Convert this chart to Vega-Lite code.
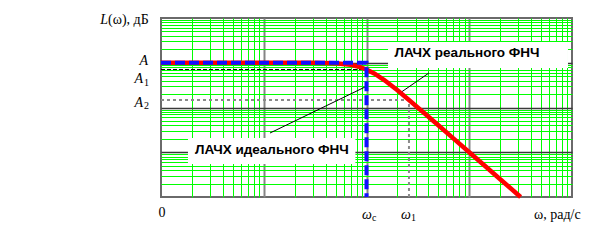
{
  "$schema": "https://vega.github.io/schema/vega-lite/v6.json",
  "width": 411,
  "height": 179,
  "autosize": "none",
  "padding": {"left": 161, "top": 18, "right": 32, "bottom": 48},
  "background": "white",
  "config": {"view": {"stroke": "#6a6a6a", "strokeWidth": 2}},
  "datasets": {
    "red": [
      {"w": 1, "L": 1000}, {"w": 10, "L": 1000}, {"w": 30, "L": 996}, {"w": 50, "L": 970},
      {"w": 70, "L": 898}, {"w": 85, "L": 811}, {"w": 100, "L": 707}, {"w": 120, "L": 570},
      {"w": 150, "L": 406}, {"w": 200, "L": 242}, {"w": 259, "L": 147}, {"w": 350, "L": 81.4},
      {"w": 500, "L": 40}, {"w": 700, "L": 20.4}, {"w": 1000, "L": 10}, {"w": 1500, "L": 4.44},
      {"w": 2000, "L": 2.5}, {"w": 3000, "L": 1.11}, {"w": 3162, "L": 1}
    ],
    "blue": [
      {"w": 1, "L": 1000, "o": 1}, {"w": 100, "L": 1000, "o": 2}, {"w": 100, "L": 1, "o": 3}
    ],
    "a1": [{"w": 1, "L": 707}, {"w": 100, "L": 707}],
    "a2": [{"w": 1, "L": 147, "o": 1}, {"w": 259, "L": 147, "o": 2}, {"w": 259, "L": 1, "o": 3}],
    "boxes": [
      {"w": 162, "w2": 9140, "L": 2910, "L2": 763},
      {"w": 1.83, "w2": 78, "L": 20.8, "L2": 5.46}
    ],
    "leaders": [
      {"w": 11.5, "L": 26.9, "w2": 96.7, "L2": 287},
      {"w": 405, "L": 590, "w2": 212, "L2": 211}
    ],
    "bold": [
      {"t": "ЛАЧХ реального ФНЧ", "w": 951, "L": 1652},
      {"t": "ЛАЧХ идеального ФНЧ", "w": 12.0, "L": 11.2}
    ],
    "serifRight": [
      {"t": "A", "w": 0.747, "L": 1094},
      {"t": "A", "w": 0.668, "L": 433},
      {"t": "A", "w": 0.668, "L": 126},
      {"t": "ω", "w": 113, "L": 0.396},
      {"t": "ω", "w": 271, "L": 0.396}
    ],
    "subs": [
      {"t": "1", "w": 0.683, "L": 360},
      {"t": "2", "w": 0.683, "L": 108},
      {"t": "c", "w": 113, "L": 0.34},
      {"t": "1", "w": 271, "L": 0.34}
    ],
    "serifLeft": [
      {"t": "(ω), дБ", "w": 0.305, "L": 9020},
      {"t": "ω, рад/с", "w": 4266, "L": 0.396}
    ],
    "serifCenter": [
      {"t": "0", "w": 1.02, "L": 0.439}
    ],
    "italicL": [
      {"t": "L", "w": 0.305, "L": 9020}
    ]
  },
  "encoding": {
    "x": {"field": "w", "type": "quantitative"},
    "y": {"field": "L", "type": "quantitative"}
  },
  "layer": [
    {
      "data": {"name": "a1"},
      "mark": {"type": "line", "color": "#000000", "strokeWidth": 1, "strokeDash": [4, 2]},
      "encoding": {
        "x": {"field": "w", "type": "quantitative",
          "scale": {"type": "log", "domain": [1, 10000], "nice": false},
          "axis": {"labels": false, "ticks": false, "domain": false, "title": null, "grid": true,
            "values": [2,3,4,5,6,7,8,9,10,20,30,40,50,60,70,80,90,100,200,300,400,500,600,700,800,900,1000,2000,3000,4000,5000,6000,7000,8000,9000],
            "gridColor": {"condition": {"test": "indexof([10,100,1000], datum.value) >= 0", "value": "#858585"}, "value": "#00ff00"},
            "gridWidth": {"condition": {"test": "indexof([10,100,1000], datum.value) >= 0", "value": 2}, "value": 1},
            "gridOpacity": 1}},
        "y": {"field": "L", "type": "quantitative",
          "scale": {"type": "log", "domain": [1, 10000], "nice": false},
          "axis": {"labels": false, "ticks": false, "domain": false, "title": null, "grid": true,
            "values": [2,3,4,5,6,7,8,9,10,20,30,40,50,60,70,80,90,100,200,300,400,500,600,700,800,900,1000,2000,3000,4000,5000,6000,7000,8000,9000],
            "gridColor": {"condition": {"test": "indexof([10,100,1000], datum.value) >= 0", "value": "#3a3a3a"}, "value": "#00ff00"},
            "gridWidth": {"condition": {"test": "indexof([10,100,1000], datum.value) >= 0", "value": 1.5}, "value": 1},
            "gridOpacity": 1}}
      }
    },
    {
      "data": {"name": "a2"},
      "mark": {"type": "line", "color": "#8a8a8a", "strokeWidth": 2, "strokeDash": [3, 3]},
      "encoding": {"order": {"field": "o"}}
    },
    {
      "data": {"name": "boxes"},
      "mark": {"type": "rect", "color": "white"},
      "encoding": {
        "x2": {"field": "w2"},
        "y2": {"field": "L2"}
      }
    },
    {
      "data": {"name": "leaders"},
      "mark": {"type": "rule", "color": "#000000", "strokeWidth": 1},
      "encoding": {
        "x2": {"field": "w2"},
        "y2": {"field": "L2"}
      }
    },
    {
      "data": {"name": "red"},
      "mark": {"type": "line", "color": "#ff0000", "strokeWidth": 4.5}
    },
    {
      "data": {"name": "blue"},
      "mark": {"type": "line", "color": "#1010ff", "strokeWidth": 4, "strokeDash": [10, 4]},
      "encoding": {"order": {"field": "o"}}
    },
    {
      "data": {"name": "bold"},
      "mark": {"type": "text", "font": "Liberation Sans", "fontWeight": "bold", "fontSize": 13.5, "align": "center", "baseline": "middle", "color": "#000000"},
      "encoding": {"text": {"field": "t"}}
    },
    {
      "data": {"name": "serifRight"},
      "mark": {"type": "text", "font": "Liberation Serif", "fontStyle": "italic", "fontSize": 14, "align": "right", "baseline": "middle", "color": "#000000"},
      "encoding": {"text": {"field": "t"}}
    },
    {
      "data": {"name": "subs"},
      "mark": {"type": "text", "font": "Liberation Serif", "fontSize": 10, "align": "left", "baseline": "middle", "color": "#000000"},
      "encoding": {"text": {"field": "t"}}
    },
    {
      "data": {"name": "serifLeft"},
      "mark": {"type": "text", "font": "Liberation Serif", "fontSize": 14, "align": "left", "baseline": "middle", "color": "#000000"},
      "encoding": {"text": {"field": "t"}}
    },
    {
      "data": {"name": "serifCenter"},
      "mark": {"type": "text", "font": "Liberation Serif", "fontSize": 14, "align": "center", "baseline": "middle", "color": "#000000"},
      "encoding": {"text": {"field": "t"}}
    },
    {
      "data": {"name": "italicL"},
      "mark": {"type": "text", "font": "Liberation Serif", "fontStyle": "italic", "fontSize": 14, "align": "right", "baseline": "middle", "color": "#000000"},
      "encoding": {"text": {"field": "t"}}
    }
  ]
}
